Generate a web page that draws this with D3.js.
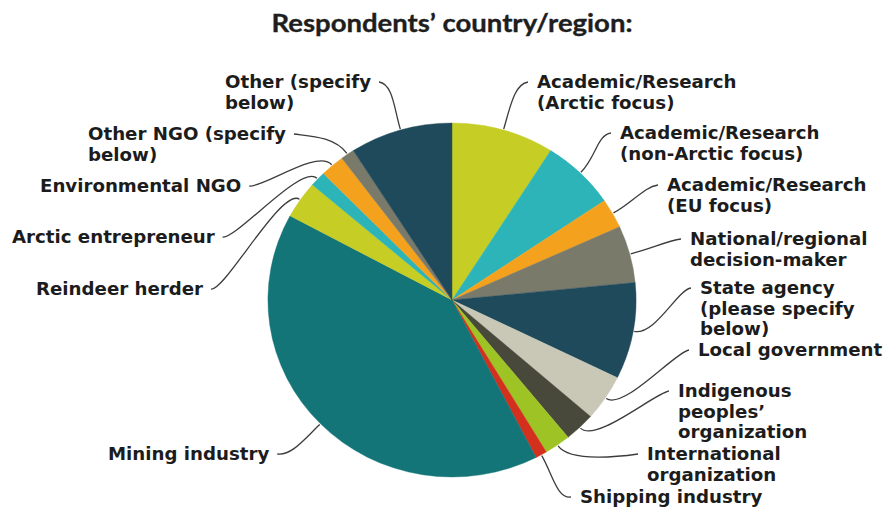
<!DOCTYPE html>
<html>
<head>
<meta charset="utf-8">
<script src="https://cdn.jsdelivr.net/npm/d3@7"></script>
<style>
  html, body { margin: 0; padding: 0; background: #ffffff; }
  svg { display: block; }
</style>
</head>
<body>
<svg id="chart" width="885" height="509"></svg>
<script>
// ---- data (% of respondents, clockwise from 12 o'clock) ----
const titleText = "Respondents’ country/region:";
const categories = [
  "Academic/Research\n(Arctic focus)",
  "Academic/Research\n(non-Arctic focus)",
  "Academic/Research\n(EU focus)",
  "National/regional\ndecision-maker",
  "State agency\n(please specify\nbelow)",
  "Local government",
  "Indigenous\npeoples’\norganization",
  "International\norganization",
  "Shipping industry",
  "Mining industry",
  "Reindeer herder",
  "Arctic entrepreneur",
  "Environmental NGO",
  "Other NGO (specify\nbelow)",
  "Other (specify\nbelow)"
];
const values = [9.0, 6.5, 2.7, 5.2, 8.8, 4.2, 2.7, 2.3, 1.0, 40.4, 3.4, 1.4, 2.1, 1.2, 9.0];

// ---- styles / layout (kept apart from the data) ----
const colors = ["#c6cd24", "#2cb4b8", "#f4a21d", "#7a7a6b", "#1f4a5b",
                "#c9c8b7", "#48493b", "#9dc324", "#d3301d", "#137578",
                "#c6cd24", "#2cb4b8", "#f4a21d", "#7a7a6b", "#1f4a5b"];
// label block: text start x, first baseline y, side of the pie
const labelLayout = [
  {x: 537, y: 88,  side: "right"},
  {x: 620, y: 139, side: "right"},
  {x: 667, y: 191, side: "right"},
  {x: 690, y: 245, side: "right"},
  {x: 700, y: 294, side: "right"},
  {x: 698, y: 356, side: "right"},
  {x: 678, y: 397, side: "right"},
  {x: 647, y: 460, side: "right"},
  {x: 580, y: 503, side: "right"},
  {x: 108, y: 460, side: "left"},
  {x: 36,  y: 295, side: "left"},
  {x: 12,  y: 243, side: "left"},
  {x: 40,  y: 192, side: "left"},
  {x: 88,  y: 140, side: "left"},
  {x: 225, y: 88,  side: "left"}
];
const cx = 452, cy = 300, radius = 177, stretchX = 1.04;
const labelFont = "'DejaVu Sans', sans-serif";
const labelSize = 18.2, lineGap = 20.5;

const svg = d3.select("#chart");

svg.append("text")
  .attr("x", cx).attr("y", 32)
  .attr("text-anchor", "middle")
  .attr("font-family", "Lato, 'Open Sans', sans-serif")
  .attr("font-weight", 700)
  .attr("font-size", 25)
  .attr("textLength", 361)
  .attr("lengthAdjust", "spacingAndGlyphs")
  .attr("fill", "#1e1e1e")
  .attr("stroke", "#1e1e1e")
  .attr("stroke-width", 0.35)
  .text(titleText);

const pie = d3.pie().sort(null).value(d => d).startAngle(0).endAngle(2 * Math.PI);
const arcs = pie(values);
const arc = d3.arc().innerRadius(0).outerRadius(radius);

const g = svg.append("g")
  .attr("transform", `translate(${cx},${cy}) scale(${stretchX},1)`);

g.selectAll("path.slice")
  .data(arcs)
  .join("path")
  .attr("class", "slice")
  .attr("d", arc)
  .attr("fill", (d, i) => colors[i])
  .attr("stroke", (d, i) => colors[i])
  .attr("stroke-width", 0.4);

// labels
const labels = svg.append("g");
const lineG = svg.append("g");

arcs.forEach((d, i) => {
  const lay = labelLayout[i];
  const lines = categories[i].split("\n");
  const t = labels.append("text")
    .attr("font-family", labelFont)
    .attr("font-weight", 700)
    .attr("font-size", labelSize)
    .attr("fill", "#1c1c1c");
  const spans = lines.map((ln, k) =>
    t.append("tspan").attr("x", lay.x).attr("y", lay.y + k * lineGap).text(ln));
  const firstW = spans[0].node().getComputedTextLength();

  const a = (d.startAngle + d.endAngle) / 2;
  const sx = Math.sin(a), sy = -Math.cos(a);
  const p0 = [cx + stretchX * (radius + 1) * sx, cy + (radius + 1) * sy];
  const p1 = [cx + stretchX * (radius + 22) * sx, cy + (radius + 22) * sy];
  let p3, p2;
  if (lay.side === "right") {
    p3 = [lay.x - 9, lay.y - 6];
    p2 = [p3[0] - 14, p3[1] + 2];
  } else {
    p3 = [lay.x + firstW + 8, lay.y - 6];
    p2 = [p3[0] + 14, p3[1] + 2];
  }
  const path = d3.path();
  path.moveTo(p0[0], p0[1]);
  path.bezierCurveTo(p1[0], p1[1], p2[0], p2[1], p3[0], p3[1]);
  lineG.append("path")
    .attr("d", path.toString())
    .attr("fill", "none")
    .attr("stroke", "#3c3c3c")
    .attr("stroke-width", 1.3);
});
</script>
</body>
</html>
